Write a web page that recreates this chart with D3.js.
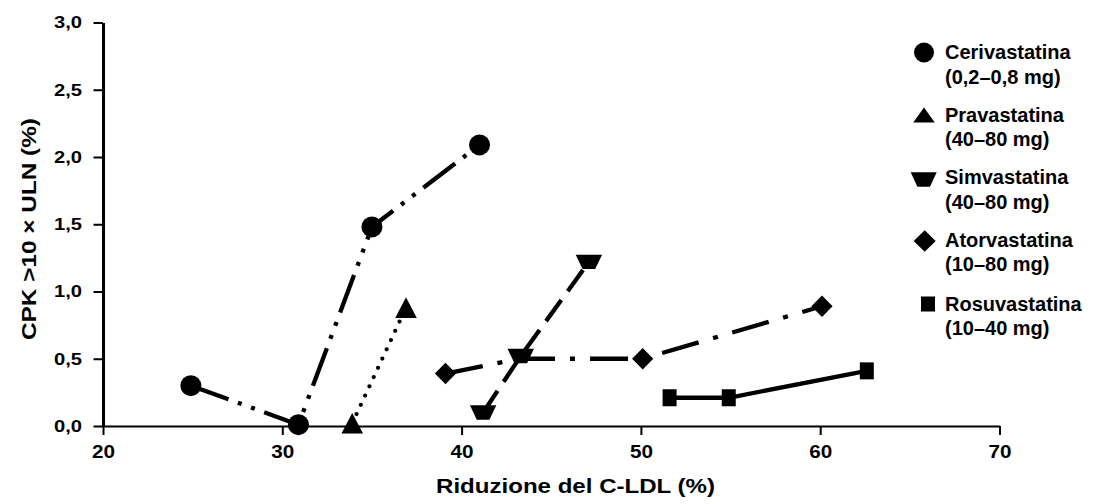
<!DOCTYPE html>
<html>
<head>
<meta charset="utf-8">
<script src="https://cdn.jsdelivr.net/npm/d3@7/dist/d3.min.js"></script>
<style>
  html, body { margin: 0; padding: 0; background: #fff; }
  svg { display: block; font-family: "Liberation Sans", Arial, Helvetica, sans-serif; font-weight: bold; }
</style>
</head>
<body>
<svg id="chart" width="1095" height="504"></svg>
<script>
// ---- data ----
const xTicks = [20, 30, 40, 50, 60, 70];
const xTickLabels = ["20", "30", "40", "50", "60", "70"];
const yTicks = [0, 0.5, 1, 1.5, 2, 2.5, 3];
const yTickLabels = ["0,0", "0,5", "1,0", "1,5", "2,0", "2,5", "3,0"];

const seriesNames = ["Cerivastatina", "Pravastatina", "Simvastatina", "Atorvastatina", "Rosuvastatina"];
const seriesDoses = ["(0,2–0,8 mg)", "(40–80 mg)", "(40–80 mg)", "(10–80 mg)", "(10–40 mg)"];

const cerivX = [24.9, 30.9, 35.0, 41.0];
const cerivY = [0.30, 0.01, 1.48, 2.09];
const pravX = [33.9, 36.9];
const pravY = [0.02, 0.88];
const simvX = [41.2, 43.3, 47.1];
const simvY = [0.10, 0.52, 1.22];
const atorX = [39.1, 43.2, 50.1, 60.1];
const atorY = [0.39, 0.50, 0.50, 0.89];
const rosuX = [51.6, 54.9, 62.6];
const rosuY = [0.21, 0.21, 0.41];

const xTitle = "Riduzione del C-LDL (%)";
const yTitle = "CPK >10 × ULN (%)";

// ---- styling ----
const shapes = {
  circle: "M0,-10.5A10.5,10.5 0 1,1 0,10.5A10.5,10.5 0 1,1 0,-10.5Z",
  triUp: "M0,-10.3L10.8,10.3L-10.8,10.3Z",
  trapDown: "M-13.2,-7.2L13.2,-7.2L6.3,7.2L-6.3,7.2Z",
  diamond: "M0,-10.8L10.6,0L0,10.8L-10.6,0Z",
  square: "M-7,-8.5L7,-8.5L7,8.5L-7,8.5Z"
};
const legendShapes = {
  circle: "M0,-10A10,10 0 1,1 0,10A10,10 0 1,1 0,-10Z",
  triUp: "M0,-7.5L10.8,7.5L-10.8,7.5Z",
  trapDown: "M-13,-7.2L13,-7.2L6.3,7.2L-6.3,7.2Z",
  diamond: "M0,-10.8L11,0L0,10.8L-11,0Z",
  square: "M-7,-7.5L7,-7.5L7,7.5L-7,7.5Z"
};

// the atorvastatina point at 43% lies under the simvastatina marker (no marker of its own shown)
const series = [
  { xs: cerivX, ys: cerivY, shape: "circle", dash: "40,10,4,10,4,10", cap: "butt", hide: [] },
  { xs: pravX, ys: pravY, shape: "triUp", dash: "0,10.2", cap: "round", hide: [] },
  { xs: atorX, ys: atorY, shape: "diamond", dash: "38,15,5,15", cap: "butt", hide: [1] },
  { xs: simvX, ys: simvY, shape: "trapDown", dash: "26,11", cap: "butt", hide: [] },
  { xs: rosuX, ys: rosuY, shape: "square", dash: null, cap: "butt", hide: [] }
];
const legendOrder = ["circle", "triUp", "trapDown", "diamond", "square"];

const svg = d3.select("#chart");

const x = d3.scaleLinear().domain([20, 70]).range([103, 999.5]);
const y = d3.scaleLinear().domain([0, 3]).range([426, 22.5]);

// x axis
const xAxis = svg.append("g")
  .attr("transform", `translate(0,${y(0)})`)
  .call(d3.axisBottom(x).tickValues(xTicks)
    .tickFormat((d, i) => xTickLabels[i])
    .tickSize(9).tickSizeOuter(0).tickPadding(10));
xAxis.select(".domain").attr("stroke", "#000").attr("stroke-width", 2);
xAxis.selectAll(".tick line").attr("stroke", "#000").attr("stroke-width", 2);
xAxis.selectAll(".tick text").attr("font-size", 18.5).attr("font-weight", "bold")
  .attr("font-family", "Liberation Sans, Arial, sans-serif").attr("fill", "#000")
  .attr("textLength", 23).attr("lengthAdjust", "spacingAndGlyphs");

// y axis
const yAxis = svg.append("g")
  .attr("transform", `translate(${x(20)},0)`)
  .call(d3.axisLeft(y).tickValues(yTicks)
    .tickFormat((d, i) => yTickLabels[i])
    .tickSize(9.5).tickSizeOuter(0).tickPadding(11.5));
yAxis.select(".domain").attr("stroke", "#000").attr("stroke-width", 3);
yAxis.selectAll(".tick line").attr("stroke", "#000").attr("stroke-width", 2);
yAxis.selectAll(".tick text").attr("font-size", 16.5).attr("font-weight", "bold")
  .attr("font-family", "Liberation Sans, Arial, sans-serif").attr("fill", "#000")
  .attr("textLength", 28).attr("lengthAdjust", "spacingAndGlyphs");

// axis titles
svg.append("text")
  .attr("x", 575.5).attr("y", 492.5)
  .attr("text-anchor", "middle")
  .attr("font-size", 21)
  .attr("textLength", 279).attr("lengthAdjust", "spacingAndGlyphs")
  .text(xTitle);

svg.append("text")
  .attr("transform", `translate(35.5,229) rotate(-90)`)
  .attr("text-anchor", "middle")
  .attr("font-size", 21)
  .attr("textLength", 222).attr("lengthAdjust", "spacingAndGlyphs")
  .text(yTitle);

// lines + markers
const line = d3.line().x(d => x(d[0])).y(d => y(d[1]));
series.forEach(s => {
  const pts = s.xs.map((v, i) => [v, s.ys[i]]);
  const p = svg.append("path")
    .attr("d", line(pts))
    .attr("fill", "none")
    .attr("stroke", "#000")
    .attr("stroke-width", 4.3)
    .attr("stroke-linecap", s.cap)
    .attr("stroke-linejoin", "miter");
  if (s.dash) p.attr("stroke-dasharray", s.dash);
  svg.append("g").selectAll("path").data(pts.filter((d, i) => !s.hide.includes(i))).join("path")
    .attr("d", shapes[s.shape])
    .attr("transform", d => `translate(${x(d[0])},${y(d[1])})`)
    .attr("fill", "#000");
});

// legend
const legendMarkerX = [924, 924, 923.7, 924.7, 928];
const legendMarkerY = [52.5, 115, 179.5, 241, 304];
const legendBase = [59.3, 121.7, 184, 246.7, 310.7];
const lg = svg.append("g");
legendOrder.forEach((shp, i) => {
  lg.append("path")
    .attr("d", legendShapes[shp])
    .attr("transform", `translate(${legendMarkerX[i]},${legendMarkerY[i]})`)
    .attr("fill", "#000");
  lg.append("text").attr("x", 945).attr("y", legendBase[i])
    .attr("font-size", 20).text(seriesNames[i]);
  lg.append("text").attr("x", 945).attr("y", legendBase[i] + 24.5)
    .attr("font-size", 20).text(seriesDoses[i]);
});
</script>
</body>
</html>
